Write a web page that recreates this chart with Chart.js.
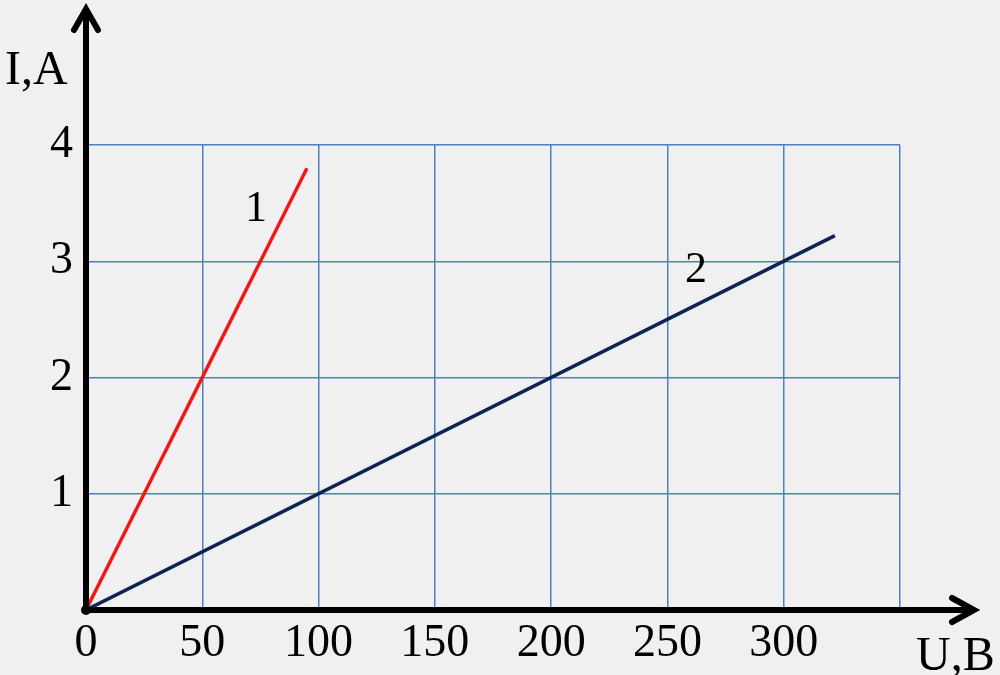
<!DOCTYPE html>
<html>
<head>
<meta charset="utf-8">
<title>I(U)</title>
<script src="https://cdn.jsdelivr.net/npm/chart.js@4/dist/chart.umd.min.js"></script>
<style>
    html, body { margin: 0; padding: 0; background: #f0f0f0; }
    #wrap { width: 1000px; height: 675px; }
</style>
</head>
<body>
<div id="wrap"><canvas id="ivChart" width="1000" height="675"></canvas></div>
<script>
// data
const line1U = [0, 95];
const line1I = [0, 3.8];
const line2U = [0, 322];
const line2I = [0, 3.22];
const curveNames = ['1', '2'];
const xTicks = [0, 50, 100, 150, 200, 250, 300, 350];
const yTicks = [0, 1, 2, 3, 4];
const xTitle = 'U,B';
const yTitle = 'I,A';

const FONT = '"Liberation Serif", "Times New Roman", serif';

function toPoints(us, is) {
    return us.map(function (u, i) { return { x: u, y: is[i] }; });
}

// black arrowed axes, titles, curve numbers
const axesPlugin = {
    id: 'axesPlugin',
    afterDraw: function (chart) {
        const ctx = chart.ctx;
        const xs = chart.scales.x;
        const ys = chart.scales.y;
        const ox = xs.getPixelForValue(0);
        const oy = ys.getPixelForValue(0);

        ctx.save();
        ctx.strokeStyle = '#000';
        ctx.fillStyle = '#000';
        ctx.lineWidth = 6;
        ctx.lineCap = 'butt';

        // x axis
        ctx.beginPath();
        ctx.moveTo(ox, oy);
        ctx.lineTo(972, oy);
        ctx.stroke();
        ctx.lineCap = 'round';
        ctx.beginPath();
        ctx.moveTo(952, oy - 12);
        ctx.lineTo(974, oy);
        ctx.lineTo(952, oy + 12);
        ctx.stroke();

        // y axis
        ctx.lineCap = 'butt';
        ctx.beginPath();
        ctx.moveTo(ox, oy + 2);
        ctx.lineTo(ox, 12);
        ctx.stroke();
        ctx.lineCap = 'round';
        ctx.beginPath();
        ctx.moveTo(ox - 12, 30);
        ctx.lineTo(ox, 9);
        ctx.lineTo(ox + 12, 30);
        ctx.stroke();

        // origin dot
        ctx.beginPath();
        ctx.arc(ox, oy, 5, 0, Math.PI * 2);
        ctx.fill();

        ctx.font = '48px ' + FONT;
        ctx.textBaseline = 'alphabetic';
        ctx.textAlign = 'left';
        ctx.fillText(yTitle, 5, 84);
        ctx.fillText(xTitle, 916, 670);

        // curve numbers next to line ends
        ctx.font = '44px ' + FONT;
        ctx.textAlign = 'center';
        ctx.fillText(curveNames[0], 256, 221);
        ctx.fillText(curveNames[1], 696, 282);
        ctx.restore();
    }
};

const ctx = document.getElementById('ivChart');

new Chart(ctx, {
    type: 'scatter',
    data: {
        datasets: [{
            label: curveNames[0],
            data: toPoints(line1U, line1I),
            showLine: true,
            borderColor: '#f21616',
            borderWidth: 3.5,
            pointRadius: 0
        }, {
            label: curveNames[1],
            data: toPoints(line2U, line2I),
            showLine: true,
            borderColor: '#0f2456',
            borderWidth: 3.5,
            pointRadius: 0
        }]
    },
    options: {
        responsive: false,
        animation: false,
        layout: { padding: { top: 145, right: 100, left: 0, bottom: 0 } },
        plugins: {
            legend: { display: false },
            tooltip: { enabled: false }
        },
        scales: {
            x: {
                type: 'linear',
                min: xTicks[0],
                max: xTicks[xTicks.length - 1],
                afterBuildTicks: function (scale) {
                    scale.ticks = xTicks.map(function (v) { return { value: v }; });
                },
                afterFit: function (scale) { scale.height = 65; },
                grid: { color: '#4d7fc2', lineWidth: 1.5, drawTicks: false },
                border: { display: false },
                ticks: {
                    padding: 6,
                    color: '#000',
                    font: { family: FONT, size: 46 },
                    callback: function (v) { return v === 350 ? '' : String(v); }
                }
            },
            y: {
                type: 'linear',
                min: yTicks[0],
                max: yTicks[yTicks.length - 1],
                afterBuildTicks: function (scale) {
                    scale.ticks = yTicks.map(function (v) { return { value: v }; });
                },
                afterFit: function (scale) { scale.width = 86; },
                grid: { color: '#4d7fc2', lineWidth: 1.5, drawTicks: false },
                border: { display: false },
                ticks: {
                    padding: 13,
                    color: '#000',
                    font: { family: FONT, size: 46 },
                    callback: function (v) { return v === 0 ? '' : String(v); }
                }
            }
        }
    },
    plugins: [axesPlugin]
});
</script>
</body>
</html>
